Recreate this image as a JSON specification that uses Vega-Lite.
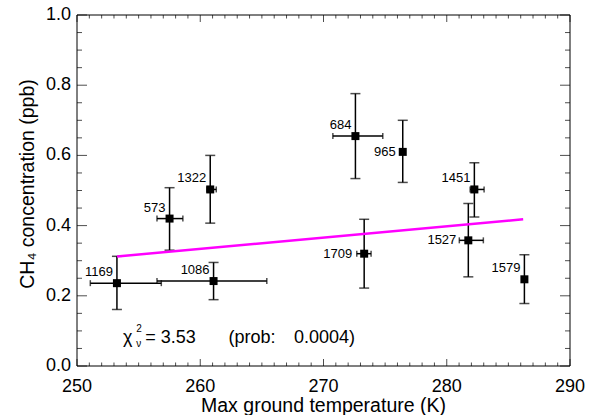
{
  "$schema": "https://vega.github.io/schema/vega-lite/v6.json",
  "width": 493,
  "height": 351,
  "autosize": {"type": "none"},
  "padding": {"left": 77, "top": 15, "right": 21, "bottom": 49},
  "background": "white",
  "config": {"view": {"stroke": null}, "font": "Liberation Sans"},
  "datasets": {
    "pts": [
      {"id": "1169", "t": 253.24, "tlo": 251.08, "thi": 256.84, "c": 0.236, "clo": 0.161, "chi": 0.3125},
      {"id": "573", "t": 257.51, "tlo": 256.49, "thi": 258.59, "c": 0.42, "clo": 0.33, "chi": 0.508},
      {"id": "1322", "t": 260.81, "tlo": 260.54, "thi": 261.3, "c": 0.503, "clo": 0.407, "chi": 0.6},
      {"id": "1086", "t": 261.08, "tlo": 256.49, "thi": 265.4, "c": 0.242, "clo": 0.189, "chi": 0.295},
      {"id": "684", "t": 272.59, "tlo": 270.76, "thi": 274.81, "c": 0.655, "clo": 0.534, "chi": 0.776},
      {"id": "965", "t": 276.43, "tlo": null, "thi": null, "c": 0.61, "clo": 0.523, "chi": 0.7},
      {"id": "1709", "t": 273.3, "tlo": 272.7, "thi": 273.86, "c": 0.32, "clo": 0.222, "chi": 0.418},
      {"id": "1451", "t": 282.24, "tlo": 281.9, "thi": 283.03, "c": 0.503, "clo": 0.4245, "chi": 0.579},
      {"id": "1527", "t": 281.75, "tlo": 281.02, "thi": 282.97, "c": 0.358, "clo": 0.254, "chi": 0.463},
      {"id": "1579", "t": 286.3, "tlo": null, "thi": null, "c": 0.247, "clo": 0.178, "chi": 0.317}
    ],
    "fit": [{"t": 253.24, "c": 0.312}, {"t": 286.2, "c": 0.418}],
    "frame": [{"x0": 250, "x1": 290, "y0": 0, "y1": 1}],
    "xlabels": [{"v": 250, "s": "250"}, {"v": 260, "s": "260"}, {"v": 270, "s": "270"}, {"v": 280, "s": "280"}, {"v": 290, "s": "290"}],
    "ylabels": [{"v": 0, "s": "0.0"}, {"v": 0.2, "s": "0.2"}, {"v": 0.4, "s": "0.4"}, {"v": 0.6, "s": "0.6"}, {"v": 0.8, "s": "0.8"}, {"v": 1, "s": "1.0"}],
    "xticks": [
      {"v": 250}, {"v": 251}, {"v": 252}, {"v": 253}, {"v": 254}, {"v": 255}, {"v": 256}, {"v": 257}, {"v": 258}, {"v": 259},
      {"v": 260}, {"v": 261}, {"v": 262}, {"v": 263}, {"v": 264}, {"v": 265}, {"v": 266}, {"v": 267}, {"v": 268}, {"v": 269},
      {"v": 270}, {"v": 271}, {"v": 272}, {"v": 273}, {"v": 274}, {"v": 275}, {"v": 276}, {"v": 277}, {"v": 278}, {"v": 279},
      {"v": 280}, {"v": 281}, {"v": 282}, {"v": 283}, {"v": 284}, {"v": 285}, {"v": 286}, {"v": 287}, {"v": 288}, {"v": 289},
      {"v": 290}
    ],
    "yticks": [
      {"v": 0, "m": 1}, {"v": 0.05, "m": 0}, {"v": 0.1, "m": 0}, {"v": 0.15, "m": 0},
      {"v": 0.2, "m": 1}, {"v": 0.25, "m": 0}, {"v": 0.3, "m": 0}, {"v": 0.35, "m": 0},
      {"v": 0.4, "m": 1}, {"v": 0.45, "m": 0}, {"v": 0.5, "m": 0}, {"v": 0.55, "m": 0},
      {"v": 0.6, "m": 1}, {"v": 0.65, "m": 0}, {"v": 0.7, "m": 0}, {"v": 0.75, "m": 0},
      {"v": 0.8, "m": 1}, {"v": 0.85, "m": 0}, {"v": 0.9, "m": 0}, {"v": 0.95, "m": 0},
      {"v": 1, "m": 1}
    ],
    "titles": [{"tx": 270, "ty": 0, "s": "Max ground temperature (K)"}],
    "ytitle": [{"tx": 250, "ty": 0.5185, "s": "CH₄ concentration (ppb)"}]
  },
  "layer": [
    {
      "data": {"name": "pts"},
      "mark": {"type": "rule", "color": "black", "strokeWidth": 1.5},
      "encoding": {
        "x": {"field": "t", "type": "quantitative", "scale": {"domain": [250, 290], "nice": false, "zero": false}, "axis": null},
        "y": {"field": "clo", "type": "quantitative", "scale": {"domain": [0, 1], "nice": false, "zero": false}, "axis": null},
        "y2": {"field": "chi"}
      }
    },
    {
      "data": {"name": "frame"},
      "mark": {"type": "rule", "color": "black", "strokeWidth": 1},
      "encoding": {"x": {"field": "x0", "type": "quantitative", "axis": null}, "y": {"field": "y0", "type": "quantitative", "axis": null}, "y2": {"field": "y1"}}
    },
    {
      "data": {"name": "frame"},
      "mark": {"type": "rule", "color": "black", "strokeWidth": 1},
      "encoding": {"x": {"field": "x1", "type": "quantitative", "axis": null}, "y": {"field": "y0", "type": "quantitative", "axis": null}, "y2": {"field": "y1"}}
    },
    {
      "data": {"name": "frame"},
      "mark": {"type": "rule", "color": "black", "strokeWidth": 1},
      "encoding": {"y": {"field": "y0", "type": "quantitative", "axis": null}, "x": {"field": "x0", "type": "quantitative", "axis": null}, "x2": {"field": "x1"}}
    },
    {
      "data": {"name": "frame"},
      "mark": {"type": "rule", "color": "black", "strokeWidth": 1},
      "encoding": {"y": {"field": "y1", "type": "quantitative", "axis": null}, "x": {"field": "x0", "type": "quantitative", "axis": null}, "x2": {"field": "x1"}}
    },
    {
      "data": {"name": "xticks"},
      "transform": [{"filter": "datum.v % 10 === 0"}],
      "mark": {"type": "tick", "orient": "vertical", "color": "black", "size": 7, "thickness": 1, "yOffset": -3.5},
      "encoding": {"x": {"field": "v", "type": "quantitative", "axis": null}, "y": {"datum": 0, "type": "quantitative", "axis": null}}
    },
    {
      "data": {"name": "xticks"},
      "transform": [{"filter": "datum.v % 10 !== 0"}],
      "mark": {"type": "tick", "orient": "vertical", "color": "black", "size": 3.5, "thickness": 1, "yOffset": -1.75},
      "encoding": {"x": {"field": "v", "type": "quantitative", "axis": null}, "y": {"datum": 0, "type": "quantitative", "axis": null}}
    },
    {
      "data": {"name": "xticks"},
      "transform": [{"filter": "datum.v % 10 === 0"}],
      "mark": {"type": "tick", "orient": "vertical", "color": "black", "size": 7, "thickness": 1, "yOffset": 3.5},
      "encoding": {"x": {"field": "v", "type": "quantitative", "axis": null}, "y": {"datum": 1, "type": "quantitative", "axis": null}}
    },
    {
      "data": {"name": "xticks"},
      "transform": [{"filter": "datum.v % 10 !== 0"}],
      "mark": {"type": "tick", "orient": "vertical", "color": "black", "size": 3.5, "thickness": 1, "yOffset": 1.75},
      "encoding": {"x": {"field": "v", "type": "quantitative", "axis": null}, "y": {"datum": 1, "type": "quantitative", "axis": null}}
    },
    {
      "data": {"name": "yticks"},
      "transform": [{"filter": "datum.m === 1"}],
      "mark": {"type": "tick", "orient": "horizontal", "color": "black", "size": 10, "thickness": 1, "xOffset": 5},
      "encoding": {"y": {"field": "v", "type": "quantitative", "axis": null}, "x": {"datum": 250, "type": "quantitative", "axis": null}}
    },
    {
      "data": {"name": "yticks"},
      "transform": [{"filter": "datum.m === 0"}],
      "mark": {"type": "tick", "orient": "horizontal", "color": "black", "size": 5, "thickness": 1, "xOffset": 2.5},
      "encoding": {"y": {"field": "v", "type": "quantitative", "axis": null}, "x": {"datum": 250, "type": "quantitative", "axis": null}}
    },
    {
      "data": {"name": "yticks"},
      "transform": [{"filter": "datum.m === 1"}],
      "mark": {"type": "tick", "orient": "horizontal", "color": "black", "size": 10, "thickness": 1, "xOffset": -5},
      "encoding": {"y": {"field": "v", "type": "quantitative", "axis": null}, "x": {"datum": 290, "type": "quantitative", "axis": null}}
    },
    {
      "data": {"name": "yticks"},
      "transform": [{"filter": "datum.m === 0"}],
      "mark": {"type": "tick", "orient": "horizontal", "color": "black", "size": 5, "thickness": 1, "xOffset": -2.5},
      "encoding": {"y": {"field": "v", "type": "quantitative", "axis": null}, "x": {"datum": 290, "type": "quantitative", "axis": null}}
    },
    {
      "data": {"name": "xlabels"},
      "mark": {"type": "text", "align": "center", "baseline": "top", "dy": 12, "fontSize": 18, "color": "black", "font": "Liberation Sans"},
      "encoding": {"x": {"field": "v", "type": "quantitative", "axis": null}, "y": {"datum": 0, "type": "quantitative", "axis": null}, "text": {"field": "s"}}
    },
    {
      "data": {"name": "ylabels"},
      "mark": {"type": "text", "align": "right", "baseline": "middle", "dx": -6, "fontSize": 18, "color": "black", "font": "Liberation Sans"},
      "encoding": {"y": {"field": "v", "type": "quantitative", "axis": null}, "x": {"datum": 250, "type": "quantitative", "axis": null}, "text": {"field": "s"}}
    },
    {
      "data": {"name": "titles"},
      "mark": {"type": "text", "align": "center", "baseline": "alphabetic", "yOffset": 46, "fontSize": 19.5, "color": "black", "font": "Liberation Sans"},
      "encoding": {"x": {"field": "tx", "type": "quantitative", "axis": null}, "y": {"field": "ty", "type": "quantitative", "axis": null}, "text": {"field": "s"}}
    },
    {
      "data": {"name": "ytitle"},
      "mark": {"type": "text", "align": "center", "baseline": "alphabetic", "angle": 270, "xOffset": -43, "fontSize": 19.5, "color": "black", "font": "Liberation Sans"},
      "encoding": {"x": {"field": "tx", "type": "quantitative", "axis": null}, "y": {"field": "ty", "type": "quantitative", "axis": null}, "text": {"field": "s"}}
    },
    {
      "data": {"name": "pts"},
      "mark": {"type": "tick", "orient": "horizontal", "color": "black", "size": 10, "thickness": 1.5},
      "encoding": {"x": {"field": "t", "type": "quantitative", "axis": null}, "y": {"field": "chi", "type": "quantitative", "axis": null}}
    },
    {
      "data": {"name": "pts"},
      "mark": {"type": "tick", "orient": "horizontal", "color": "black", "size": 10, "thickness": 1.5},
      "encoding": {"x": {"field": "t", "type": "quantitative", "axis": null}, "y": {"field": "clo", "type": "quantitative", "axis": null}}
    },
    {
      "data": {"name": "pts"},
      "transform": [{"filter": "datum.tlo != null"}],
      "mark": {"type": "rule", "color": "black", "strokeWidth": 1.5},
      "encoding": {"x": {"field": "tlo", "type": "quantitative", "axis": null}, "x2": {"field": "thi"}, "y": {"field": "c", "type": "quantitative", "axis": null}}
    },
    {
      "data": {"name": "pts"},
      "transform": [{"filter": "datum.tlo != null"}],
      "mark": {"type": "tick", "orient": "vertical", "color": "black", "size": 6, "thickness": 1.5},
      "encoding": {"x": {"field": "tlo", "type": "quantitative", "axis": null}, "y": {"field": "c", "type": "quantitative", "axis": null}}
    },
    {
      "data": {"name": "pts"},
      "transform": [{"filter": "datum.thi != null"}],
      "mark": {"type": "tick", "orient": "vertical", "color": "black", "size": 6, "thickness": 1.5},
      "encoding": {"x": {"field": "thi", "type": "quantitative", "axis": null}, "y": {"field": "c", "type": "quantitative", "axis": null}}
    },
    {
      "data": {"name": "fit"},
      "mark": {"type": "line", "color": "#ff00ff", "strokeWidth": 2.5},
      "encoding": {"x": {"field": "t", "type": "quantitative", "axis": null}, "y": {"field": "c", "type": "quantitative", "axis": null}}
    },
    {
      "data": {"name": "pts"},
      "mark": {"type": "point", "shape": "square", "filled": true, "color": "black", "size": 64, "opacity": 1},
      "encoding": {"x": {"field": "t", "type": "quantitative", "axis": null}, "y": {"field": "c", "type": "quantitative", "axis": null}}
    },
    {
      "data": {"name": "pts"},
      "transform": [{"filter": {"field": "id", "oneOf": ["1169", "573", "1322", "1086", "684", "1451", "1579"]}}],
      "mark": {"type": "text", "align": "right", "baseline": "alphabetic", "dx": -4, "dy": -7, "fontSize": 13, "color": "black", "font": "Liberation Sans"},
      "encoding": {"x": {"field": "t", "type": "quantitative", "axis": null}, "y": {"field": "c", "type": "quantitative", "axis": null}, "text": {"field": "id"}}
    },
    {
      "data": {"name": "pts"},
      "transform": [{"filter": {"field": "id", "oneOf": ["965"]}}],
      "mark": {"type": "text", "align": "right", "baseline": "middle", "dx": -7, "fontSize": 13, "color": "black", "font": "Liberation Sans"},
      "encoding": {"x": {"field": "t", "type": "quantitative", "axis": null}, "y": {"field": "c", "type": "quantitative", "axis": null}, "text": {"field": "id"}}
    },
    {
      "data": {"name": "pts"},
      "transform": [{"filter": {"field": "id", "oneOf": ["1709", "1527"]}}],
      "mark": {"type": "text", "align": "right", "baseline": "middle", "dx": -12, "fontSize": 13, "color": "black", "font": "Liberation Sans"},
      "encoding": {"x": {"field": "t", "type": "quantitative", "axis": null}, "y": {"field": "c", "type": "quantitative", "axis": null}, "text": {"field": "id"}}
    },
    {
      "data": {"values": [{"t": 253.73, "c": 0.0655, "s": "χ"}]},
      "mark": {"type": "text", "align": "left", "baseline": "alphabetic", "fontSize": 18, "color": "black", "font": "Liberation Sans"},
      "encoding": {"x": {"field": "t", "type": "quantitative", "axis": null}, "y": {"field": "c", "type": "quantitative", "axis": null}, "text": {"field": "s"}}
    },
    {
      "data": {"values": [{"t": 254.81, "c": 0.096, "s": "2"}]},
      "mark": {"type": "text", "align": "left", "baseline": "alphabetic", "fontSize": 10, "color": "black", "font": "Liberation Sans"},
      "encoding": {"x": {"field": "t", "type": "quantitative", "axis": null}, "y": {"field": "c", "type": "quantitative", "axis": null}, "text": {"field": "s"}}
    },
    {
      "data": {"values": [{"t": 254.81, "c": 0.053, "s": "ν"}]},
      "mark": {"type": "text", "align": "left", "baseline": "alphabetic", "fontSize": 10, "color": "black", "font": "Liberation Sans"},
      "encoding": {"x": {"field": "t", "type": "quantitative", "axis": null}, "y": {"field": "c", "type": "quantitative", "axis": null}, "text": {"field": "s"}}
    },
    {
      "data": {"values": [{"t": 255.54, "c": 0.0655, "s": "= 3.53"}]},
      "mark": {"type": "text", "align": "left", "baseline": "alphabetic", "fontSize": 18, "color": "black", "font": "Liberation Sans"},
      "encoding": {"x": {"field": "t", "type": "quantitative", "axis": null}, "y": {"field": "c", "type": "quantitative", "axis": null}, "text": {"field": "s"}}
    },
    {
      "data": {"values": [{"t": 262.3, "c": 0.0655, "s": "(prob:"}]},
      "mark": {"type": "text", "align": "left", "baseline": "alphabetic", "fontSize": 18, "color": "black", "font": "Liberation Sans"},
      "encoding": {"x": {"field": "t", "type": "quantitative", "axis": null}, "y": {"field": "c", "type": "quantitative", "axis": null}, "text": {"field": "s"}}
    },
    {
      "data": {"values": [{"t": 267.6, "c": 0.0655, "s": "0.0004)"}]},
      "mark": {"type": "text", "align": "left", "baseline": "alphabetic", "fontSize": 18, "color": "black", "font": "Liberation Sans"},
      "encoding": {"x": {"field": "t", "type": "quantitative", "axis": null}, "y": {"field": "c", "type": "quantitative", "axis": null}, "text": {"field": "s"}}
    }
  ]
}
